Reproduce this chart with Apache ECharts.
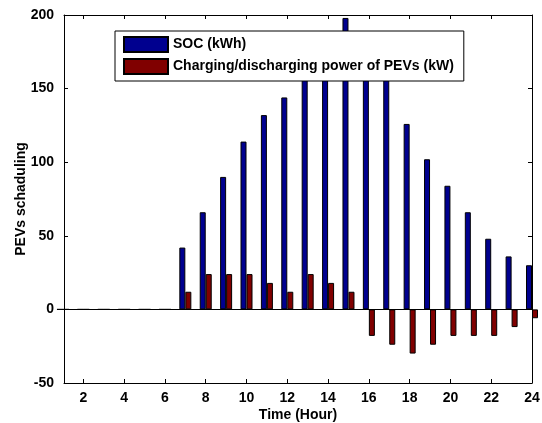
<!DOCTYPE html>
<html>
<head>
<meta charset="utf-8">
<script src="https://cdn.jsdelivr.net/npm/echarts@6/dist/echarts.min.js"></script>
<style>
html,body{margin:0;padding:0;background:#fff;}
#c{width:542px;height:423px;}
</style>
</head>
<body>
<div id="c"></div>
<script>
var hours = [1,2,3,4,5,6,7,8,9,10,11,12,13,14,15,16,17,18,19,20,21,22,23,24];
var socValues = [0,0,0,0,0,0,42,66,90,114,132,144,168,186,198,180,156,126,102,84,66,48,36,30];
var powerValues = [0,0,0,0,0,0,12,24,24,24,18,12,24,18,12,-18,-24,-30,-24,-18,-18,-18,-12,-6];
var xTickLabels = [2,4,6,8,10,12,14,16,18,20,22,24];
var seriesNames = ['SOC (kWh)', 'Charging/discharging power of PEVs (kW)'];

var FONT = 'Liberation Sans, Arial, sans-serif';
var socData = hours.map(function(h,i){return [h, socValues[i]];});
var powData = hours.map(function(h,i){return [h, powerValues[i]];});

var chart = echarts.init(document.getElementById('c'), null, {renderer:'canvas'});
var axisLineStyle = {color:'#000', width:1};
chart.setOption({
  backgroundColor:'#fff',
  animation:false,
  grid:{left:64, right:10, top:15, bottom:40, containLabel:false, outerBoundsMode:'none'},
  legend:{
    orient:'vertical', left:115, top:31,
    itemWidth:44, itemHeight:15, itemGap:5,
    padding:[5,10,6,8],
    icon:'rect',
    borderColor:'#000', borderWidth:1, backgroundColor:'#fff',
    textStyle:{fontFamily:FONT, fontWeight:'bold', fontSize:14, color:'#000'},
    data:seriesNames
  },
  xAxis:[{
    type:'value', min:1.05, max:24, position:'bottom',
    name:'Time (Hour)', nameLocation:'middle', nameGap:25, nameMoveOverlap:false,
    nameTextStyle:{fontFamily:FONT, fontWeight:'bold', fontSize:14, color:'#000'},
    axisLine:{show:true, onZero:false, lineStyle:axisLineStyle},
    axisTick:{show:true, inside:true, length:4, customValues:xTickLabels, lineStyle:axisLineStyle},
    axisLabel:{show:true, customValues:xTickLabels, margin:8, fontFamily:FONT, fontWeight:'bold', fontSize:14, color:'#000'},
    splitLine:{show:false}
  },{
    type:'value', min:1.05, max:24, position:'top',
    axisLine:{show:true, onZero:false, lineStyle:axisLineStyle},
    axisTick:{show:true, inside:true, length:4, customValues:xTickLabels, lineStyle:axisLineStyle},
    axisLabel:{show:false},
    splitLine:{show:false}
  }],
  yAxis:[{
    type:'value', min:-50, max:200, interval:50, position:'left',
    name:'PEVs schaduling', nameLocation:'middle', nameGap:36, nameRotate:90, nameMoveOverlap:false,
    nameTextStyle:{fontFamily:FONT, fontWeight:'bold', fontSize:14, color:'#000'},
    axisLine:{show:true, onZero:false, lineStyle:axisLineStyle},
    axisTick:{show:true, inside:true, length:4, lineStyle:axisLineStyle},
    axisLabel:{margin:10, fontFamily:FONT, fontWeight:'bold', fontSize:14, color:'#000'},
    splitLine:{show:false}
  },{
    type:'value', min:-50, max:200, interval:50, position:'right',
    axisLine:{show:true, onZero:false, lineStyle:axisLineStyle},
    axisTick:{show:true, inside:true, length:4, lineStyle:axisLineStyle},
    axisLabel:{show:false},
    splitLine:{show:false}
  }],
  series:[{
    name:seriesNames[0], type:'bar', xAxisIndex:0, yAxisIndex:0,
    data:socData, barWidth:6, barGap:'0%', clip:true,
    itemStyle:{color:'#00008F', borderColor:'#000', borderWidth:1},
    markLine:{silent:true, symbol:['none','none'], label:{show:false},
      lineStyle:{color:'#000', width:1, type:'solid'},
      data:[{yAxis:0}]}
  },{
    name:seriesNames[1], type:'bar', xAxisIndex:0, yAxisIndex:0,
    data:powData, barWidth:6, barGap:'0%', clip:true,
    itemStyle:{color:'#800000', borderColor:'#000', borderWidth:1}
  }]
});
</script>
</body>
</html>
